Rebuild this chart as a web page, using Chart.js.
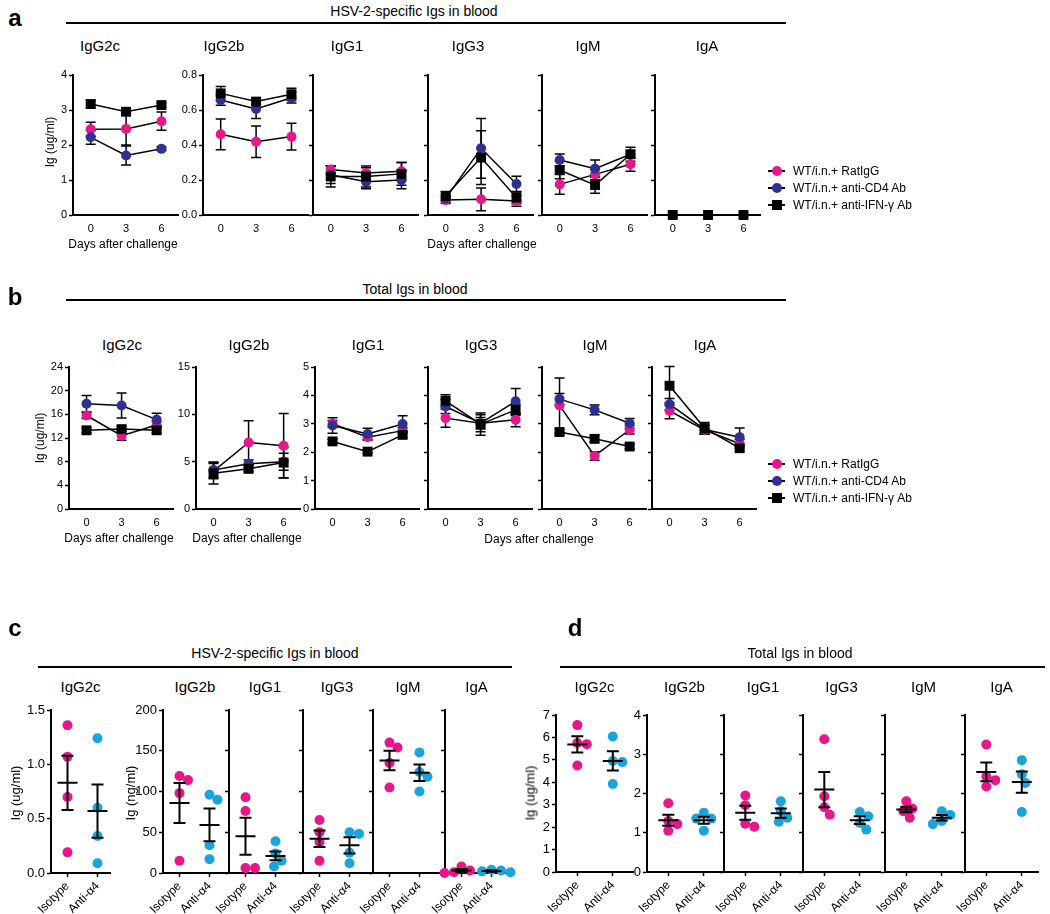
<!DOCTYPE html>
<html><head><meta charset="utf-8">
<script src="https://cdn.jsdelivr.net/npm/chart.js@4.4.1/dist/chart.umd.min.js"></script>
<style>
html,body{margin:0;padding:0;background:#fff;}
body{width:1050px;height:914px;overflow:hidden;position:relative;font-family:"Liberation Sans",Arial,sans-serif;color:#000;}
.t{position:absolute;white-space:nowrap;transform:translate(-50%,-50%);line-height:1;}
.n{font-family:"Liberation Sans Narrow","Liberation Sans",Arial,sans-serif;}
.hl{position:absolute;height:2px;background:#000;}
canvas{position:absolute;}
.lg{position:absolute;height:14px;white-space:nowrap;font-size:12px;line-height:14px;}
.lg i{position:absolute;left:0;top:6px;width:17px;height:2px;background:#000;}
.lg b{position:absolute;left:4px;top:2px;width:10px;height:10px;}
.lg span{position:absolute;left:25px;top:0;}
</style></head><body>
<script>
// ---------------- DATA ----------------
const days = [0, 3, 6];
const isotypes = ['IgG2c', 'IgG2b', 'IgG1', 'IgG3', 'IgM', 'IgA'];
const seriesNames = ['WT/i.n.+ RatIgG', 'WT/i.n.+ anti-CD4 Ab', 'WT/i.n.+ anti-IFN-\u03b3 Ab'];
const groups = ['Isotype', 'Anti-\u03b14'];

// Panel a: HSV-2-specific Igs (mean per day, per isotype)
const aRat  = [[2.45,2.46,2.68],[0.461,0.419,0.448],[0.26,0.24,0.25],[0.086,0.09,0.08],[0.175,0.232,0.29],[0,0,0]];
const aRatErr = [[0.2,0.46,0.26],[0.088,0.09,0.077],[0.02,0.03,0.05],[0.02,0.065,0.03],[0.057,0.03,0.04],[0,0,0]];
const aCD4  = [[2.22,1.70,1.89],[0.657,0.606,0.67],[0.23,0.19,0.20],[0.095,0.381,0.177],[0.314,0.265,0.347],[0,0,0]];
const aCD4Err = [[0.2,0.27,0.05],[0.03,0.055,0.03],[0.05,0.04,0.05],[0.02,0.171,0.045],[0.035,0.049,0.02],[0,0,0]];
const aIFN  = [[3.17,2.95,3.14],[0.695,0.648,0.69],[0.22,0.22,0.235],[0.109,0.328,0.099],[0.257,0.171,0.347],[0,0,0]];
const aIFNErr = [[0.1,0.08,0.06],[0.04,0.02,0.035],[0.06,0.06,0.065],[0.025,0.154,0.035],[0.05,0.047,0.04],[0,0,0]];
const aTickVals = [[0,1,2,3,4],[0,0.2,0.4,0.6,0.8],[0,0.2,0.4,0.6,0.8],[0,0.2,0.4,0.6,0.8],[0,0.2,0.4,0.6,0.8],[0,0.2,0.4,0.6,0.8]];
const aTickLabels = [['0','1','2','3','4'],['0.0','0.2','0.4','0.6','0.8'],null,null,null,null];

// Panel b: Total Igs
const bRat  = [[15.8,12.4,14.2],[4.0,7.03,6.68],[3.0,2.53,2.76],[3.2,3.02,3.14],[3.65,1.87,2.79],[3.46,2.78,2.3]];
const bRatErr = [[0.5,0.8,0.6],[0.8,2.3,3.4],[0.12,0.1,0.1],[0.32,0.2,0.24],[0.96,0.15,0.15],[0.28,0.15,0.15]];
const bCD4  = [[17.8,17.5,15.1],[4.13,4.77,5.0],[2.94,2.64,2.99],[3.61,3.02,3.79],[3.87,3.49,3.02],[3.69,2.8,2.53]];
const bCD4Err = [[1.4,2.1,1.1],[0.8,0.4,0.9],[0.27,0.2,0.29],[0.25,0.3,0.45],[0.2,0.17,0.17],[0.2,0.15,0.32]];
const bIFN  = [[13.3,13.5,13.3],[3.78,4.24,4.9],[2.38,2.02,2.61],[3.81,2.99,3.49],[2.71,2.47,2.2],[4.34,2.85,2.14]];
const bIFNErr = [[0.4,0.5,0.5],[1.15,0.3,1.6],[0.08,0.06,0.1],[0.21,0.39,0.2],[0.1,0.12,0.08],[0.68,0.2,0.1]];
const bTickVals = [[0,4,8,12,16,20,24],[0,5,10,15],[0,1,2,3,4,5],[0,1,2,3,4,5],[0,1,2,3,4,5],[0,1,2,3,4,5]];
const bTickLabels = [['0','4','8','12','16','20','24'],['0','5','10','15'],['0','1','2','3','4','5'],null,null,null];

// Panel c: HSV-2-specific Igs, individual mice
const cIso  = [[1.36,1.07,0.70,0.19],[119,114,98,15],[93,76,6,6],[65,50,38,15],[160,154,135,105],[8,3,1,0]];
const cIsoMean = [0.83,86,45,42,138,3];
const cIsoSem  = [0.25,24.5,22.7,10,12,2];
const cAnti = [[1.24,0.60,0.34,0.09],[96,90,34,17],[39,24,15,8],[50,48,25,12],[148,124,118,100],[4,3,2,1]];
const cAntiMean = [0.57,59,21,34,123,2.5];
const cAntiSem  = [0.245,20,5.5,10,10,1];
const cTickVals = [[0,0.5,1,1.5],[0,50,100,150,200],[0,50,100,150,200],[0,50,100,150,200],[0,50,100,150,200],[0,50,100,150,200]];
const cTickLabels = [['0.0','0.5','1.0','1.5'],['0','50','100','150','200'],null,null,null,null];

// Panel d: Total Igs, individual mice
const dIso  = [[6.55,5.75,5.7,4.75],[1.75,1.3,1.22,1.05],[1.95,1.7,1.23,1.15],[3.38,1.93,1.65,1.46],[1.8,1.62,1.55,1.38],[3.25,2.43,2.34,2.18]];
const dIsoMean = [5.69,1.32,1.51,2.1,1.59,2.55];
const dIsoSem  = [0.36,0.14,0.18,0.45,0.07,0.24];
const dAnti = [[6.04,4.95,4.9,3.92],[1.51,1.36,1.36,1.05],[1.8,1.55,1.38,1.28],[1.53,1.42,1.25,1.08],[1.55,1.45,1.3,1.22],[2.85,2.49,2.27,1.53]];
const dAntiMean = [4.95,1.32,1.5,1.32,1.38,2.29];
const dAntiSem  = [0.43,0.09,0.12,0.1,0.07,0.27];
const dTickVals = [[0,1,2,3,4,5,6,7],[0,1,2,3,4],[0,1,2,3,4],[0,1,2,3,4],[0,1,2,3,4],[0,1,2,3,4]];
const dTickLabels = [['0','1','2','3','4','5','6','7'],['0','1','2','3','4'],null,null,null,null];
</script>
<script>
// ---------------- STYLE / LAYOUT ----------------
const PINK = '#E8168B', BLUE = '#2E3192', CYAN = '#1AA5DA';
Chart.defaults.font.family = "'Liberation Sans', Arial, sans-serif";
Chart.defaults.color = '#000';

function txt(s, x, y, size, cls, extra) {
  const d = document.createElement('div');
  d.className = 't ' + (cls || '');
  d.textContent = s;
  d.style.left = x + 'px'; d.style.top = y + 'px'; d.style.fontSize = size + 'px';
  if (extra) Object.assign(d.style, extra);
  document.body.appendChild(d);
}
function hline(x1, x2, y) {
  const d = document.createElement('div'); d.className = 'hl';
  d.style.left = x1 + 'px'; d.style.width = (x2 - x1) + 'px'; d.style.top = (y - 1) + 'px';
  document.body.appendChild(d);
}
function legend(x, y0) {
  const cols = [PINK, BLUE, '#000'];
  seriesNames.forEach((n, i) => {
    const d = document.createElement('div'); d.className = 'lg';
    d.style.left = x + 'px'; d.style.top = (y0 + i * 17 - 7) + 'px';
    d.innerHTML = '<i></i><b style="background:' + cols[i] + ';border-radius:' + (i < 2 ? '50%' : '0') + '"></b><span></span>';
    d.querySelector('span').textContent = n;
    document.body.appendChild(d);
  });
}

function lineErrPlugin(means, errs) {
  return { id: 'lerr', beforeDatasetsDraw(chart) {
    const { ctx, scales: { x, y } } = chart;
    ctx.save(); ctx.strokeStyle = '#000'; ctx.lineWidth = 1.5;
    means.forEach((m, s) => m.forEach((v, i) => {
      const e = errs[s][i]; if (!e) return;
      const px = x.getPixelForValue(days[i]);
      const y1 = y.getPixelForValue(v + e), y2 = y.getPixelForValue(Math.max(v - e, y.min));
      ctx.beginPath();
      ctx.moveTo(px, y1); ctx.lineTo(px, y2);
      ctx.moveTo(px - 5, y1); ctx.lineTo(px + 5, y1);
      ctx.moveTo(px - 5, y2); ctx.lineTo(px + 5, y2);
      ctx.stroke();
    }));
    ctx.restore();
  } };
}
function dotMeanPlugin(means, sems) {
  return { id: 'dmean', afterDatasetsDraw(chart) {
    const { ctx, scales: { x, y } } = chart;
    ctx.save(); ctx.strokeStyle = '#000'; ctx.lineWidth = 2;
    means.forEach((m, g) => {
      const px = x.getPixelForValue(g), pm = y.getPixelForValue(m);
      const p1 = y.getPixelForValue(m + sems[g]), p2 = y.getPixelForValue(Math.max(m - sems[g], 0));
      ctx.beginPath();
      ctx.moveTo(px - 10, pm); ctx.lineTo(px + 10, pm);
      ctx.moveTo(px, p1); ctx.lineTo(px, p2);
      ctx.moveTo(px - 6, p1); ctx.lineTo(px + 6, p1);
      ctx.moveTo(px - 6, p2); ctx.lineTo(px + 6, p2);
      ctx.stroke();
    });
    ctx.restore();
  } };
}

function makeChart(o) {
  const YW = 40, PT = 10, PR = 10, XH = o.rotate ? 52 : 24;
  const c = document.createElement('canvas');
  const cw = o.w + YW + PR, ch = o.h + PT + XH;
  c.width = cw; c.height = ch;
  c.style.left = (o.left - YW) + 'px'; c.style.top = (o.top - PT) + 'px';
  c.style.width = cw + 'px'; c.style.height = ch + 'px';
  document.body.appendChild(c);
  new Chart(c, {
    type: 'scatter',
    data: { datasets: o.datasets },
    options: {
      responsive: false, animation: false, devicePixelRatio: 1,
      layout: { padding: { left: 0, top: PT, right: PR, bottom: 0 } },
      plugins: { legend: { display: false }, tooltip: { enabled: false } },
      scales: {
        x: {
          type: 'linear', min: o.xMin, max: o.xMax,
          afterBuildTicks: s => { s.ticks = o.xTicks.map(v => ({ value: v })); },
          afterFit: s => { s.height = XH; },
          ticks: { callback: (v, i) => o.xLabels[i], autoSkip: false, padding: o.rotate ? 2 : 3,
                   minRotation: o.rotate ? 45 : 0, maxRotation: o.rotate ? 45 : 0,
                   font: { size: o.rotate ? 12 : 11 } },
          grid: { display: !!o.rotate, drawOnChartArea: false, drawTicks: true, tickLength: 4, tickColor: '#000', tickWidth: 1.5 },
          border: { display: true, color: '#000', width: 2 }
        },
        y: {
          type: 'linear', min: o.yMin, max: o.yMax,
          afterBuildTicks: s => { s.ticks = o.yTicks.map(v => ({ value: v })); },
          afterFit: s => { s.width = YW; },
          ticks: { display: !!o.yLabels, callback: (v, i) => (o.yLabels ? o.yLabels[i] : ''), autoSkip: false, padding: 2,
                   font: { size: o.rotate ? 13 : 11 } },
          grid: { display: true, drawOnChartArea: false, drawTicks: true, tickLength: 4, tickColor: '#000', tickWidth: 1.5 },
          border: { display: true, color: '#000', width: 2 }
        }
      }
    },
    plugins: [o.plugin]
  });
}

function lineSets(rat, cd4, ifn) {
  const mk = (vals, col, style, r, ord) => ({
    data: days.map((d, i) => ({ x: d, y: vals[i] })),
    showLine: true, borderColor: '#000', borderWidth: 1.5, tension: 0,
    pointStyle: style, pointRadius: r, pointBackgroundColor: col, pointBorderColor: col, pointBorderWidth: 0,
    order: ord, clip: false
  });
  return [mk(rat, PINK, 'circle', 5, 3), mk(cd4, BLUE, 'circle', 5, 2), mk(ifn, '#000', 'rect', 7, 1)];
}

// simple beeswarm: horizontal offsets (px) so dots do not overlap
function swarm(vals, pxPerY, D) {
  const idx = vals.map((v, i) => i).sort((a, b) => vals[b] - vals[a]);
  const placed = [], off = new Array(vals.length).fill(0);
  for (const i of idx) {
    const y = vals[i] * pxPerY;
    let chosen = 0;
    for (let s = 0; s < 60; s += 0.5) {
      let ok = false;
      for (const cand of (s === 0 ? [0] : [s, -s])) {
        if (placed.every(p => (cand - p.x) ** 2 + (y - p.y) ** 2 >= D * D * 0.85)) { chosen = cand; ok = true; break; }
      }
      if (ok) break;
    }
    off[i] = chosen; placed.push({ x: chosen, y });
  }
  return off;
}
function dotSets(iso, anti, h, yMax, pxPerX) {
  const pxPerY = h / yMax;
  const mk = (vals, g, col) => {
    const off = swarm(vals, pxPerY, 10);
    return { data: vals.map((v, i) => ({ x: g + off[i] / pxPerX, y: v })),
             pointRadius: 5, pointBackgroundColor: col, pointBorderColor: col, pointBorderWidth: 0, clip: false };
  };
  return [mk(iso, 0, PINK), mk(anti, 1, CYAN)];
}

// ---------------- PANEL a ----------------
const aLefts = [73, 203, 313, 428, 542, 655];
const aTitleX = [100, 224, 347, 468, 588, 707];
isotypes.forEach((iso, k) => {
  const tv = aTickVals[k];
  makeChart({ left: aLefts[k], top: 75, w: 105, h: 140, xMin: -1.5, xMax: 7.4,
    xTicks: days, xLabels: days.map(String), yMin: 0, yMax: tv[tv.length - 1], yTicks: tv, yLabels: aTickLabels[k],
    datasets: lineSets(aRat[k], aCD4[k], aIFN[k]),
    plugin: lineErrPlugin([aRat[k], aCD4[k], aIFN[k]], [aRatErr[k], aCD4Err[k], aIFNErr[k]]) });
  txt(iso, aTitleX[k], 45, 15, 'n');
});
txt('a', 15, 18, 24, '', { fontWeight: 'bold' });
txt('HSV-2-specific Igs in blood', 414, 11, 14, 'n');
hline(66, 786, 23);
txt('Ig (ug/ml)', 50, 142, 12, '', { transform: 'translate(-50%,-50%) rotate(-90deg)' });
txt('Days after challenge', 123, 244, 12);
txt('Days after challenge', 482, 244, 12);
legend(768, 171);

// ---------------- PANEL b ----------------
const bLefts = [69, 196, 315, 428, 542, 652];
isotypes.forEach((iso, k) => {
  const tv = bTickVals[k];
  makeChart({ left: bLefts[k], top: 367, w: 104, h: 142, xMin: -1.5, xMax: 7.4,
    xTicks: days, xLabels: days.map(String), yMin: 0, yMax: tv[tv.length - 1], yTicks: tv, yLabels: bTickLabels[k],
    datasets: lineSets(bRat[k], bCD4[k], bIFN[k]),
    plugin: lineErrPlugin([bRat[k], bCD4[k], bIFN[k]], [bRatErr[k], bCD4Err[k], bIFNErr[k]]) });
  txt(iso, bLefts[k] + 53, 344, 15, 'n');
});
txt('b', 15, 297, 24, '', { fontWeight: 'bold' });
txt('Total Igs in blood', 415, 289, 14, 'n');
hline(66, 786, 300);
txt('Ig (ug/ml)', 40, 438, 12, '', { transform: 'translate(-50%,-50%) rotate(-90deg)' });
txt('Days after challenge', 119, 538, 12);
txt('Days after challenge', 247, 538, 12);
txt('Days after challenge', 539, 539, 12);
legend(768, 464);

// ---------------- PANEL c ----------------
const cLefts = [51, 163, 229, 303, 373, 445];
const cWidths = [59, 64, 72, 68, 70, 63];
isotypes.forEach((iso, k) => {
  const tv = cTickVals[k], yMax = tv[tv.length - 1], ppx = 30;
  makeChart({ left: cLefts[k], top: 710, w: cWidths[k], h: 163, xMin: -0.55, xMax: cWidths[k] / ppx - 0.55, rotate: true,
    xTicks: [0, 1], xLabels: groups, yMin: 0, yMax: yMax, yTicks: tv, yLabels: cTickLabels[k],
    datasets: dotSets(cIso[k], cAnti[k], 163, yMax, ppx),
    plugin: dotMeanPlugin([cIsoMean[k], cAntiMean[k]], [cIsoSem[k], cAntiSem[k]]) });
  txt(iso, cLefts[k] + cWidths[k] / 2, 686, 15, 'n');
});
txt('c', 15, 628, 24, '', { fontWeight: 'bold' });
txt('HSV-2-specific Igs in blood', 275, 653, 14, 'n');
hline(38, 512, 667);
txt('Ig (ug/ml)', 15, 793, 13, '', { transform: 'translate(-50%,-50%) rotate(-90deg)' });
txt('Ig (ng/ml)', 130, 793, 13, '', { transform: 'translate(-50%,-50%) rotate(-90deg)' });

// ---------------- PANEL d ----------------
const dLefts = [556, 647, 724, 803, 885, 965];
const dWidths = [77, 75, 78, 77, 77, 73];
isotypes.forEach((iso, k) => {
  const tv = dTickVals[k], yMax = tv[tv.length - 1], ppx = 35.5;
  makeChart({ left: dLefts[k], top: 715, w: dWidths[k], h: 157, xMin: -0.6, xMax: dWidths[k] / ppx - 0.6, rotate: true,
    xTicks: [0, 1], xLabels: groups, yMin: 0, yMax: yMax, yTicks: tv, yLabels: dTickLabels[k],
    datasets: dotSets(dIso[k], dAnti[k], 157, yMax, ppx),
    plugin: dotMeanPlugin([dIsoMean[k], dAntiMean[k]], [dIsoSem[k], dAntiSem[k]]) });
  txt(iso, dLefts[k] + dWidths[k] / 2, 686, 15, 'n');
});
txt('d', 575, 628, 24, '', { fontWeight: 'bold' });
txt('Total Igs in blood', 800, 653, 14, 'n');
hline(560, 1045, 667);
txt('Ig (ug/ml)', 530, 793, 13, '', { transform: 'translate(-50%,-50%) rotate(-90deg)' });
</script>
</body></html>
